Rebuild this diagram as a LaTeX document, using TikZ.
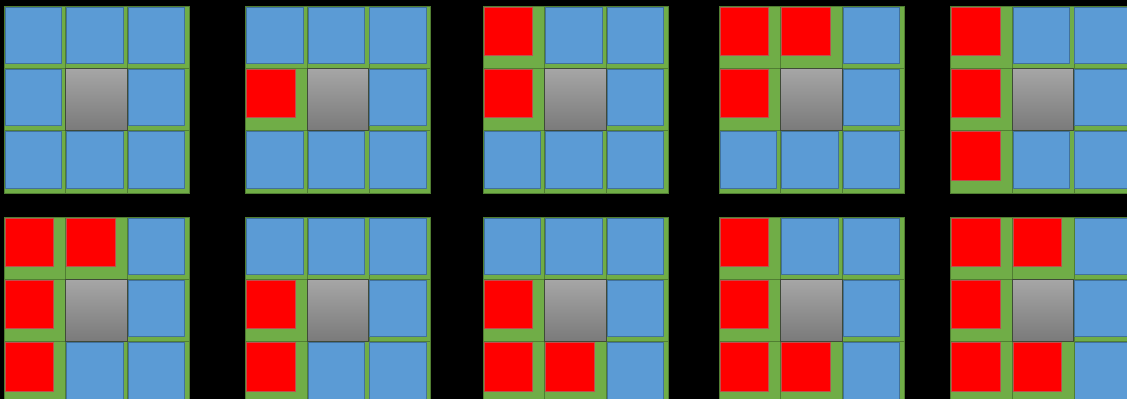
\documentclass[tikz,border=0pt]{standalone}
\definecolor{ggreen}{HTML}{70AD47}
\definecolor{ggreenD}{HTML}{507E32}
\definecolor{bblue}{HTML}{5B9BD5}
\definecolor{bblueD}{HTML}{41719C}
\definecolor{rred}{HTML}{FF0000}
\definecolor{rredD}{HTML}{C0504D}
\definecolor{grayT}{HTML}{A6A6A6}
\definecolor{grayB}{HTML}{7A7A7A}
\definecolor{grayD}{HTML}{3F4A38}
\tikzset{
  cellbg/.style={fill=ggreen, draw=ggreenD, line width=0.3pt},
  bluesq/.style={fill=bblue, draw=bblueD, line width=0.3pt},
  redsq/.style={fill=rred, draw=rredD, line width=0.3pt},
  graysq/.style={top color=grayT, bottom color=grayB, draw=grayD, line width=0.6pt}
}
\newcommand\drawpanel[3]{%
  \foreach \r in {0,1,2}{\foreach \c in {0,1,2}{
    \path[cellbg] ({#1+\c*61.7},{#2+\r*62.3}) rectangle ++(61.7,62.3);
    \path[bluesq] ({#1+\c*61.7+0.8},{#2+\r*62.3+0.8}) rectangle ++(56.5,56.5);
  }}
  \def\redlist{#3}%
  \ifx\redlist\empty\else
  \foreach \r/\c in {#3}{
    \path[cellbg] ({#1+\c*61.7},{#2+\r*62.3}) rectangle ++(61.7,62.3);
    \path[redsq] ({#1+\c*61.7+0.8},{#2+\r*62.3+0.8}) rectangle ++(48.5,48.5);
  }\fi
  \path[graysq] ({#1+61.7},{#2+62.3}) rectangle ++(61.7,62.3);
}
\begin{document}
\begin{tikzpicture}[x=0.02cm,y=-0.02cm]
  \useasboundingbox (0,0) rectangle (1127,399);
  \clip (0,0) rectangle (1127,399);
  \fill[black] (0,0) rectangle (1127,399);
  % top row
  \drawpanel{4}{6}{}
  \drawpanel{245.5}{6}{1/0}
  \drawpanel{483}{6}{0/0,1/0}
  \drawpanel{719}{6}{0/0,0/1,1/0}
  \drawpanel{950.5}{6}{0/0,1/0,2/0}
  % bottom row
  \drawpanel{4}{217}{0/0,0/1,1/0,2/0}
  \drawpanel{245.5}{217}{1/0,2/0}
  \drawpanel{483}{217}{1/0,2/0,2/1}
  \drawpanel{719}{217}{0/0,1/0,2/0,2/1}
  \drawpanel{950.5}{217}{0/0,0/1,1/0,2/0,2/1}
\end{tikzpicture}
\end{document}
